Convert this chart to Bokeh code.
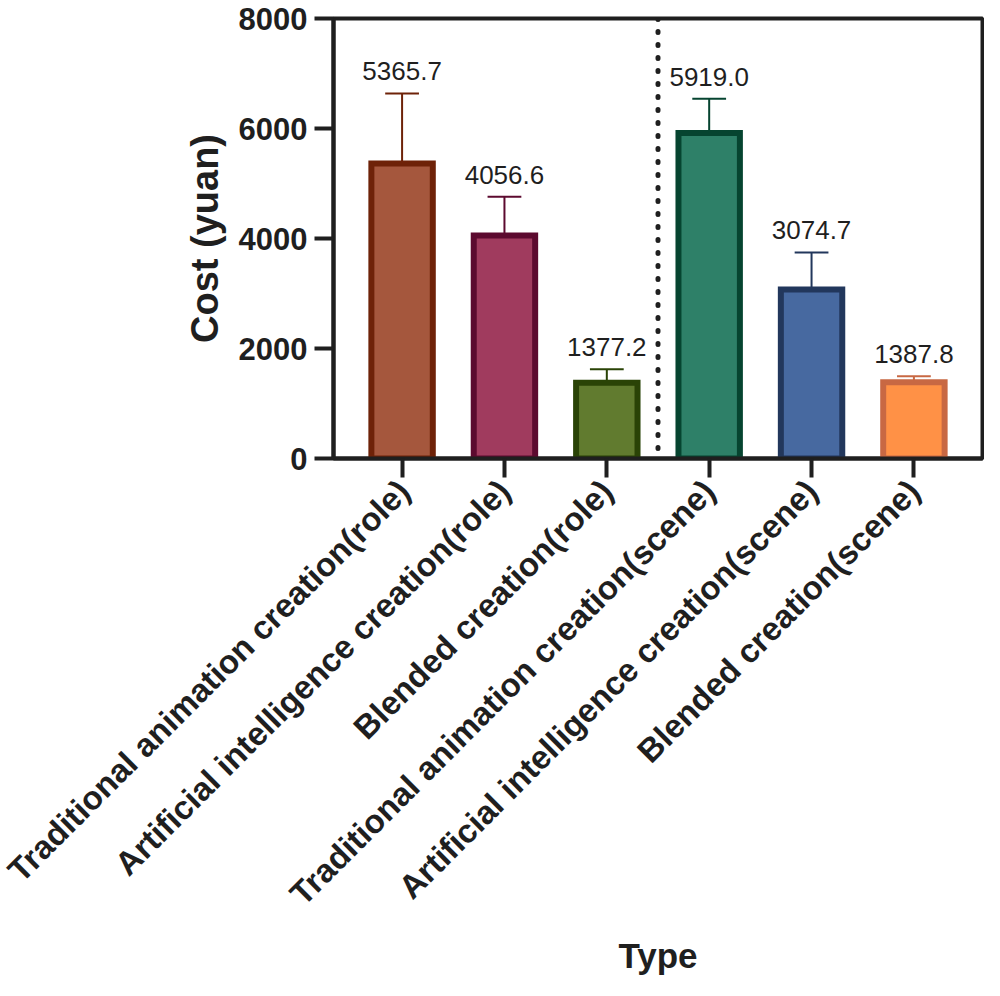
import math
from bokeh.plotting import figure
from bokeh.models import Range1d, FixedTicker, Span, ColumnDataSource
from bokeh.core.properties import value
from bokeh.embed import file_html
from bokeh.resources import INLINE

# ---------------- data ----------------
categories = [
    "Traditional animation creation(role)",
    "Artificial intelligence creation(role)",
    "Blended creation(role)",
    "Traditional animation creation(scene)",
    "Artificial intelligence creation(scene)",
    "Blended creation(scene)",
]
means = [5365.7, 4056.6, 1377.2, 5919.0, 3074.7, 1387.8]
sds = [1271, 703, 246, 620, 672, 109]
fill_colors = ["#A5573D", "#A03B5E", "#617B2F", "#2E8068", "#4769A0", "#FF9146"]
line_colors = ["#6E2208", "#5C0A2F", "#2A4306", "#064430", "#22375C", "#C86843"]
role_count = 3  # first group (role) before the dotted separator
y_ticks = [0, 2000, 4000, 6000, 8000]

# ---------------- derived ----------------
xs = list(range(len(categories)))
tops = [m + s for m, s in zip(means, sds)]
labels = [f"{m:.1f}" for m in means]
cap_half = 0.165

src = ColumnDataSource(dict(
    x=xs, mean=means, top=tops, label=labels,
    fill=fill_colors, line=line_colors,
    cap_l=[x - cap_half for x in xs], cap_r=[x + cap_half for x in xs],
))

FONT = "Liberation Sans"
INK = "#1f1f1f"

p = figure(
    width=984, height=980,
    min_border_left=333, min_border_right=2, min_border_top=18, min_border_bottom=522,
    x_range=Range1d(-0.67, len(categories) - 1 + 0.67),
    y_range=Range1d(y_ticks[0], y_ticks[-1]),
    output_backend="svg", toolbar_location=None,
)
p.background_fill_color = "white"
p.border_fill_color = "white"
p.outline_line_color = INK
p.outline_line_width = 4
p.xgrid.visible = False
p.ygrid.visible = False

# separator
p.add_layout(Span(location=role_count - 0.5, dimension="height",
                  line_color=INK, line_width=5, line_dash="1 12", line_cap="round"))

# error bars (upper only)
p.segment(x0="x", y0="mean", x1="x", y1="top", line_color="line", line_width=2, source=src)
p.segment(x0="cap_l", y0="top", x1="cap_r", y1="top", line_color="line", line_width=2, source=src)

# bars
p.vbar(x="x", top="mean", bottom=0, width=0.6, fill_color="fill", line_color="line",
       line_width=6, line_join="miter", source=src)

# value labels
p.text(x="x", y="top", text="label", y_offset=-22, text_align="center",
       text_baseline="alphabetic", text_font=value(FONT), text_font_size="26px",
       text_color=INK, source=src)

# y axis
ya = p.yaxis[0]
ya.ticker = FixedTicker(ticks=y_ticks)
ya.minor_tick_line_color = None
ya.major_tick_in = 0
ya.major_tick_out = 19
ya.major_tick_line_width = 4
ya.major_tick_line_color = INK
ya.axis_line_width = 4
ya.axis_line_color = INK
ya.major_label_text_font = FONT
ya.major_label_text_font_style = "bold"
ya.major_label_text_font_size = "31px"
ya.major_label_text_color = INK
ya.major_label_standoff = 7
ya.axis_label = "Cost (yuan)"
ya.axis_label_text_font = FONT
ya.axis_label_text_font_style = "bold"
ya.axis_label_text_font_size = "38px"
ya.axis_label_text_color = INK
ya.axis_label_standoff = 10

# x axis
xa = p.xaxis[0]
xa.ticker = FixedTicker(ticks=xs)
xa.major_label_overrides = {x: c for x, c in zip(xs, categories)}
xa.major_label_orientation = math.pi / 4
xa.minor_tick_line_color = None
xa.major_tick_in = 0
xa.major_tick_out = 19
xa.major_tick_line_width = 4
xa.major_tick_line_color = INK
xa.axis_line_width = 4
xa.axis_line_color = INK
xa.major_label_text_font = FONT
xa.major_label_text_font_style = "bold"
xa.major_label_text_font_size = "33px"
xa.major_label_text_color = INK
xa.major_label_standoff = 8
xa.axis_label = "Type"
xa.axis_label_text_font = FONT
xa.axis_label_text_font_style = "bold"
xa.axis_label_text_font_size = "35px"
xa.axis_label_text_color = INK
xa.axis_label_standoff = 8

open("out.html", "w").write(file_html(p, INLINE))
